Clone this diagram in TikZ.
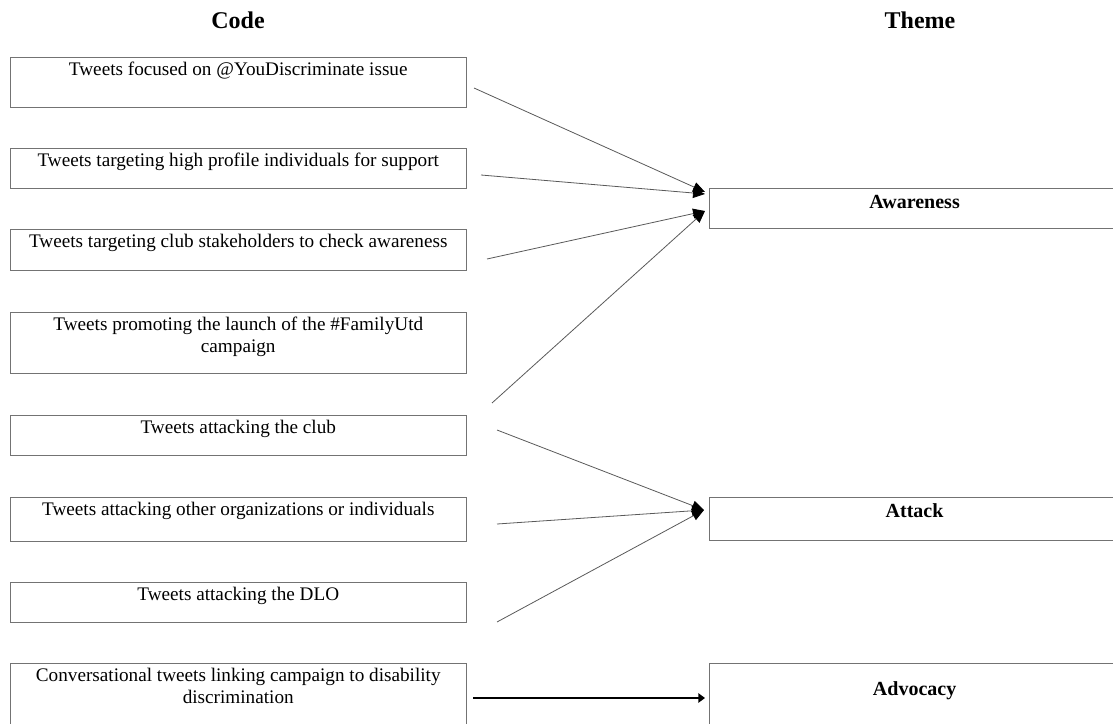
\documentclass[tikz,border=0pt]{standalone}
\usepackage{fontspec}
\setmainfont{Liberation Serif}
\usetikzlibrary{arrows.meta}

\tikzset{
  codebox/.style={draw=black!55, anchor=north west, minimum width=342pt, text width=322pt,
    align=flush center, inner xsep=0pt, inner ysep=2pt, text height=12pt, text depth=#1,
    font=\fontsize{14.4}{16.5}\selectfont},
  themebox/.style={draw=black!55, anchor=north west, minimum width=308pt, text width=290pt,
    align=flush center, inner xsep=0pt, inner ysep=2pt, text height=13.5pt, text depth=#1,
    font=\fontsize{15}{18}\selectfont\bfseries},
  heading/.style={font=\fontsize{18}{21}\selectfont\bfseries},
  link/.style={draw=black!65, line width=0.6pt, -{Triangle[length=9pt,width=7.5pt,color=black]}},
  biglink/.style={draw=black, line width=1.6pt, -{Triangle[length=5pt,width=7pt]}}
}

\begin{document}
\begin{tikzpicture}[x=0.75pt, y=-0.75pt]
\useasboundingbox (0,0) rectangle (1113,724);

% headings
\node[heading] (code) at (238,20) {Code};
\node[heading] (theme) at (920,20) {Theme};

% codes
\node[codebox=21.5pt] (c1) at (10,57) {Tweets focused on @YouDiscriminate issue};
\node[codebox=14pt] (c2) at (10,148) {Tweets targeting high profile individuals for support};
\node[codebox=14.75pt] (c3) at (10,229) {Tweets targeting club stakeholders to check awareness};
\node[codebox=29.75pt] (c4) at (10,312) {Tweets promoting the launch of the \#FamilyUtd campaign};
\node[codebox=14pt] (c5) at (10,415) {Tweets attacking the club};
\node[codebox=17pt] (c6) at (10,497) {Tweets attacking other organizations or individuals};
\node[codebox=14pt] (c7) at (10,582) {Tweets attacking the DLO};
\node[codebox=44pt] (c8) at (10,663) {Conversational tweets linking campaign to disability discrimination};

% themes
\node[themebox=12.25pt] (awareness) at (709,188) {Awareness};
\node[themebox=14.5pt] (attack) at (709,497) {Attack};
\node[themebox=32pt, text height=22pt] (advocacy) at (709,663) {Advocacy};

% loose ends of the links
\coordinate (s1) at (474,88);
\coordinate (s2) at (481,175);
\coordinate (s3) at (487,259);
\coordinate (s4) at (492,403);
\coordinate (s5) at (497,430);
\coordinate (s6) at (497,524);
\coordinate (s7) at (497,622);
\coordinate (s8) at (473,698);
\coordinate (aw1) at (705,192);
\coordinate (aw2) at (705,194);
\coordinate (aw3) at (705,211);
\coordinate (at) at (704,510);
\coordinate (ad) at (705,698);

\draw[link] (s1) -- (aw1);
\draw[link] (s2) -- (aw2);
\draw[link] (s3) -- (aw3);
\draw[link] (s4) -- (aw3);
\draw[link] (s5) -- (at);
\draw[link] (s6) -- (at);
\draw[link] (s7) -- (at);
\draw[biglink] (s8) -- (ad);
\end{tikzpicture}
\end{document}
